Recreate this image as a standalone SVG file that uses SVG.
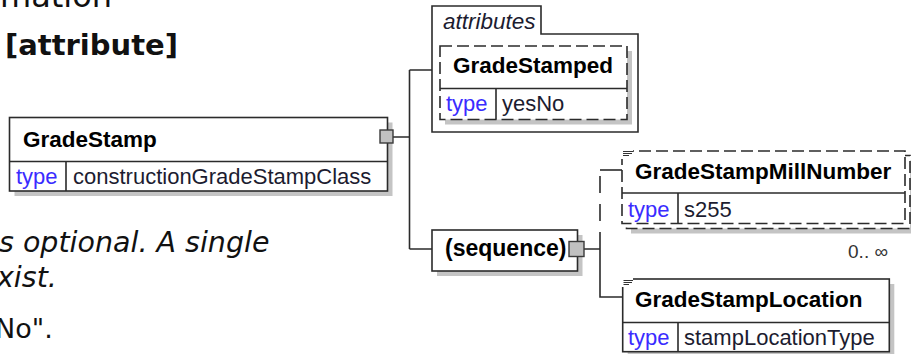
<svg xmlns="http://www.w3.org/2000/svg" width="911" height="354" viewBox="0 0 911 354">
<style>
.bg{fill:#ffffff}
.box{fill:#ffffff;stroke:#2b2b2b;stroke-width:1.6}
.dbox{fill:#ffffff;stroke:#2b2b2b;stroke-width:1.6;stroke-dasharray:12 5}
.shadow{fill:#c4c4c4}
.div{stroke:#2b2b2b;stroke-width:1.6;fill:none}
.conn{stroke:#2b2b2b;stroke-width:1.6;fill:none}
.sq{fill:#c0c0c0;stroke:#3a3a3a;stroke-width:1.4}
.name{font-family:"Liberation Sans",Arial,sans-serif;font-weight:bold;font-size:22.5px;fill:#000}
.kw{font-family:"Liberation Sans",Arial,sans-serif;font-size:22px;fill:#3a2cff}
.val{font-family:"Liberation Sans",Arial,sans-serif;font-size:22px;fill:#1c1c30}
.ital{font-family:"Liberation Sans",Arial,sans-serif;font-style:italic;font-size:22.5px;fill:#1c1c30}
.page{font-family:"DejaVu Sans",Verdana,sans-serif;font-size:27px;fill:#111}
.icon{stroke:#333;stroke-width:1.2}
</style>
<rect class="bg" x="0" y="0" width="911" height="354"/>

<g id="page-text">
<text class="page" x="0" y="7" style="font-size:32px">mation</text>
<text class="page" x="5" y="55" style="font-weight:bold;font-size:29px">[attribute]</text>
<text class="page" x="-1" y="252" style="font-style:italic;font-size:28.5px">s optional. A single</text>
<text class="page" x="-3" y="287" style="font-style:italic;font-size:28.5px">xist.</text>
<text class="page" x="-5" y="338">No".</text>
</g>

<g id="connectors">
<path class="conn" d="M393 137 H409.5 M409.5 70 V249 M409.5 70 H432 M409.5 249 H432"/>
<path class="conn" d="M584 249 H600 M600 249 V297 H623"/>
<path class="conn" d="M600 249 V170" style="stroke-dasharray:17 11"/>
<path class="conn" d="M600 170 H622"/>
</g>

<g id="GradeStamp">
<rect class="shadow" x="14.5" y="122.5" width="378" height="73.5"/>
<rect class="box" x="9.5" y="117.5" width="378" height="73.5"/>
<path class="div" d="M9.5 161.5 H387.5 M66 161.5 V191"/>
<text class="name" x="23" y="147">GradeStamp</text>
<text class="kw" x="16" y="184">type</text>
<text class="val" x="73" y="184">constructionGradeStampClass</text>
<rect class="sq" x="380" y="130" width="13" height="13"/>
</g>

<g id="attributes">
<path class="box" d="M432 6 H541 V34 H638 V132 H432 Z"/>
<text class="ital" x="443" y="29">attributes</text>
</g>

<g id="GradeStamped">
<rect class="shadow" x="445" y="51" width="187" height="73.5"/>
<rect class="dbox" x="440" y="46" width="187" height="73.5"/>
<path class="div" d="M440 88.5 H627 M496 88.5 V119.5"/>
<text class="name" x="453" y="73">GradeStamped</text>
<text class="kw" x="446" y="111">type</text>
<text class="val" x="502" y="111">yesNo</text>
</g>

<g id="sequence">
<rect class="shadow" x="437" y="235" width="145.5" height="41"/>
<rect class="box" x="432" y="230" width="145.5" height="41"/>
<text class="name" x="445" y="256" style="font-size:23px">(sequence)</text>
<rect class="sq" x="569" y="241.5" width="15" height="15"/>
</g>

<g id="GradeStampMillNumber">
<rect class="shadow" x="631" y="160.5" width="280" height="73"/>
<rect class="dbox" x="626.5" y="155.5" width="283.5" height="73"/>
<rect class="dbox" x="622" y="151" width="283" height="72.5"/>
<rect x="619" y="148" width="14" height="11" fill="#ffffff"/>
<path class="icon" d="M623 151.5 H633 M623 153.5 H632 M623 155.5 H629"/>
<path class="div" d="M622 193 H905 M678 193 V223.5"/>
<text class="name" x="635" y="179">GradeStampMillNumber</text>
<text class="kw" x="628" y="217">type</text>
<text class="val" x="684" y="217">s255</text>
<text x="888" y="258" text-anchor="end" style="font-family:'Liberation Sans',Arial,sans-serif;font-size:19px;fill:#333">0.. ∞</text>
</g>

<g id="GradeStampLocation">
<rect class="shadow" x="627.7" y="284" width="266.6" height="72.7"/>
<rect class="box" x="622.7" y="279" width="266.6" height="72.7"/>
<rect x="620" y="276" width="13" height="11" fill="#ffffff"/>
<path class="icon" d="M623.5 280.5 H633 M623.5 282.5 H632 M623.5 284.5 H629"/>
<path class="div" d="M622.7 322.5 H889.3 M678 322.5 V351.7"/>
<text class="name" x="635" y="307">GradeStampLocation</text>
<text class="kw" x="628" y="345">type</text>
<text class="val" x="684" y="345">stampLocationType</text>
</g>
</svg>
